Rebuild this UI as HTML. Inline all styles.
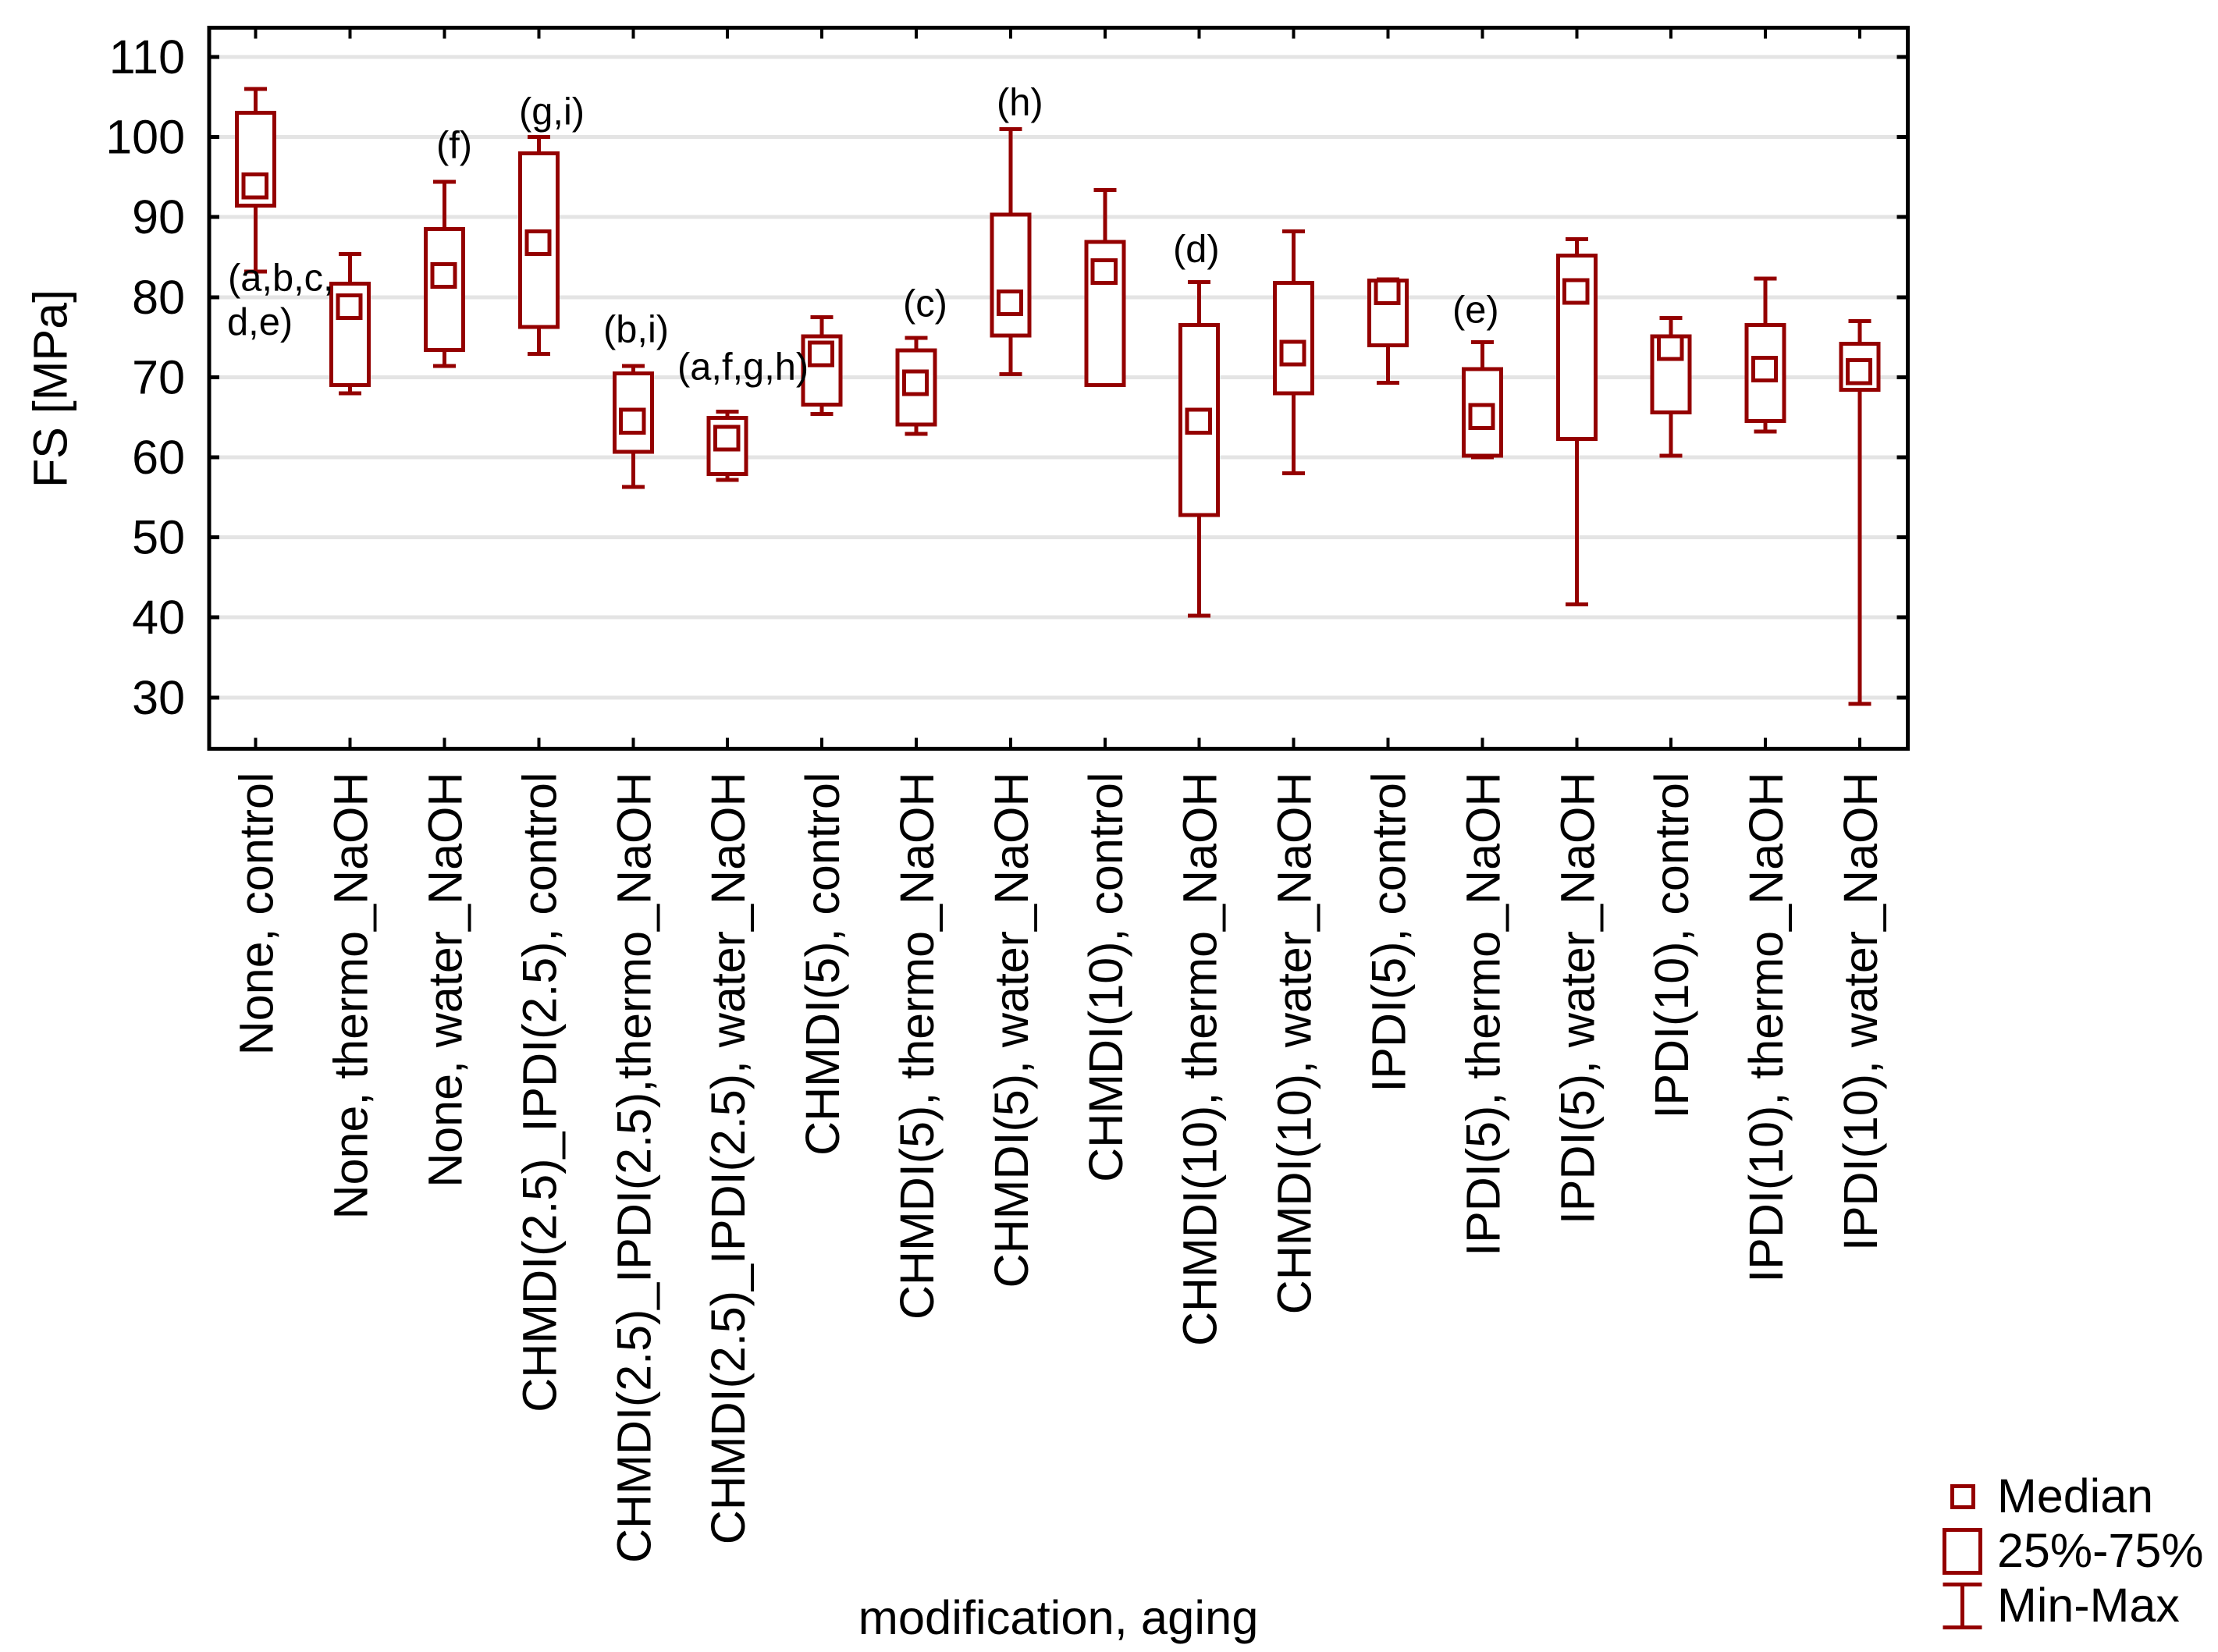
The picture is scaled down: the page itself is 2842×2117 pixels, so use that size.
<!DOCTYPE html>
<html lang="en">
<head>
<meta charset="utf-8">
<title>FS box plot</title>
<style>
html,body{margin:0;padding:0;background:#fff;}
svg{display:block;}
text{font-family:"Liberation Sans",Arial,sans-serif;fill:#000;}
line,rect{shape-rendering:crispEdges;}
</style>
</head>
<body>
<svg id="chart" xmlns="http://www.w3.org/2000/svg" width="2842" height="2117" viewBox="0 0 2842 2117">
  <rect x="0" y="0" width="2842" height="2117" fill="#ffffff"/>
  <g id="grid"></g>
  <rect x="268" y="35.6" width="2176.6" height="923.7" fill="none" stroke="#000" stroke-width="5"/>
  <g id="ticks"></g>
  <g id="boxes"></g>
  <g id="ylabels"></g>
  <g id="xlabels"></g>

  <text font-size="61" text-anchor="middle" transform="translate(85.7 498) rotate(-90)">FS [MPa]</text>
  <text font-size="61.5" text-anchor="middle" x="1356" y="2094">modification, aging</text>

  <g font-size="48.8">
    <text x="292" y="372.7">(a,b,c,</text>
    <text x="291" y="429">d,e)</text>
    <text x="559" y="202.7">(f)</text>
    <text x="665" y="159.3">(g,i)</text>
    <text x="773" y="438.3">(b,i)</text>
    <text x="868" y="486.7">(a,f,g,h)</text>
    <text x="1157" y="405.7">(c)</text>
    <text x="1277" y="147.7">(h)</text>
    <text x="1503" y="335.3">(d)</text>
    <text x="1861" y="413.3">(e)</text>
  </g>

  <g>
    <rect x="2501.5" y="1904.5" width="27" height="27" fill="none" stroke="#940000" stroke-width="5"/>
    <text font-size="61" x="2559" y="1938">Median</text>
    <rect x="2491.5" y="1960.5" width="46" height="55" fill="none" stroke="#940000" stroke-width="5"/>
    <text font-size="61" x="2559" y="2008">25%-75%</text>
    <g stroke="#940000" stroke-width="5">
      <line x1="2489.5" x2="2539.5" y1="2030.5" y2="2030.5"/>
      <line x1="2514.5" x2="2514.5" y1="2030.5" y2="2085.5"/>
      <line x1="2489.5" x2="2539.5" y1="2085.5" y2="2085.5"/>
    </g>
    <text font-size="61" x="2559" y="2078">Min-Max</text>
  </g>
</svg>

<script>
const categories = [
  "None, control", "None, thermo_NaOH", "None, water_NaOH",
  "CHMDI(2.5)_IPDI(2.5), control", "CHMDI(2.5)_IPDI(2.5),thermo_NaOH", "CHMDI(2.5)_IPDI(2.5), water_NaOH",
  "CHMDI(5), control", "CHMDI(5), thermo_NaOH", "CHMDI(5), water_NaOH",
  "CHMDI(10), control", "CHMDI(10), thermo_NaOH", "CHMDI(10), water_NaOH",
  "IPDI(5), control", "IPDI(5), thermo_NaOH", "IPDI(5), water_NaOH",
  "IPDI(10), control", "IPDI(10), thermo_NaOH", "IPDI(10), water_NaOH"
];
const maxValues    = [106.0, 85.4, 94.4, 100.0, 71.4, 65.7, 77.5, 74.9, 101.0, 93.4, 81.9, 88.2, 82.2, 74.4, 87.25, 77.4, 82.3, 77.0];
const q3Values     = [103.05, 81.7, 88.5, 97.95, 70.5, 64.9, 75.1, 73.35, 90.3, 86.9, 76.5, 81.8, 82.1, 71.0, 85.2, 75.1, 76.5, 74.2];
const medianValues = [93.9, 78.8, 82.7, 86.8, 64.5, 62.4, 72.9, 69.3, 79.3, 83.2, 64.5, 73.0, 80.65, 65.1, 80.7, 73.7, 71.0, 70.7];
const q1Values     = [91.45, 69.0, 73.4, 76.3, 60.7, 57.9, 66.6, 64.1, 75.2, 69.0, 52.8, 68.0, 74.0, 60.2, 62.3, 65.6, 64.55, 68.45];
const minValues    = [83.2, 68.0, 71.4, 72.9, 56.3, 57.15, 65.4, 62.9, 70.4, 69.0, 40.2, 58.0, 69.3, 60.0, 41.65, 60.2, 63.2, 29.2];
const yTickLabels  = [110, 100, 90, 80, 70, 60, 50, 40, 30];

const NS = "http://www.w3.org/2000/svg";
const RED = "#940000";
const STROKE = 5;
const PLOT_LEFT = 268, PLOT_RIGHT = 2444.6, PLOT_TOP = 35.6, PLOT_BOTTOM = 959.3;

function xAxis(i) { return 327.7 + i * 120.9; }
function yAxis(v) { return 175.6 + (100 - v) * 10.26; }

function make(tag, parent) {
  const el = document.createElementNS(NS, tag);
  parent.appendChild(el);
  return el;
}
function setLine(el, x1, y1, x2, y2, color, width, cap) {
  el.setAttribute("x1", x1);
  el.setAttribute("y1", y1);
  el.setAttribute("x2", x2);
  el.setAttribute("y2", y2);
  el.setAttribute("stroke", color);
  el.setAttribute("stroke-width", width);
  if (cap) el.setAttribute("stroke-linecap", cap);
}
function setRect(el, x, y, w, h) {
  el.setAttribute("x", x);
  el.setAttribute("y", y);
  el.setAttribute("width", w);
  el.setAttribute("height", h);
  el.setAttribute("fill", "#ffffff");
  el.setAttribute("stroke", RED);
  el.setAttribute("stroke-width", STROKE);
}

const gridG = document.getElementById("grid");
const ticksG = document.getElementById("ticks");
const boxesG = document.getElementById("boxes");
const yLabelsG = document.getElementById("ylabels");
const xLabelsG = document.getElementById("xlabels");

yTickLabels.forEach(function (v) {
  const y = yAxis(v);
  const grid = make("line", gridG);
  
  
  setLine(grid, PLOT_LEFT, y, PLOT_RIGHT, y, "#e4e4e4", 5);

  const tl = make("line", ticksG);
  
  
  setLine(tl, PLOT_LEFT, y, PLOT_LEFT + 13, y, "#000", 5);

  const tr = make("line", ticksG);
  
  
  setLine(tr, PLOT_RIGHT - 14, y, PLOT_RIGHT, y, "#000", 5);

  const label = make("text", yLabelsG);
  
  
  label.setAttribute("x", 237);
  label.setAttribute("y", y + 21);
  label.setAttribute("font-size", 61);
  label.setAttribute("text-anchor", "end");
  label.textContent = v;
});

categories.forEach(function (name, i) {
  const x = xAxis(i);

  const tt = make("line", ticksG);
  
  
  setLine(tt, x, PLOT_TOP, x, PLOT_TOP + 14, "#000", 4);

  const tb = make("line", ticksG);
  
  
  setLine(tb, x, PLOT_BOTTOM - 14, x, PLOT_BOTTOM, "#000", 4);

  const label = make("text", xLabelsG);
  
  
  label.setAttribute("font-size", 61);
  label.setAttribute("text-anchor", "end");
  label.setAttribute("transform", "translate(" + (x + 22) + " 989.5) rotate(-90)");
  label.textContent = name;

  const stem = make("line", boxesG);
  
  
  setLine(stem, x, yAxis(maxValues[i]), x, yAxis(minValues[i]), RED, STROKE);

  const capTop = make("line", boxesG);
  
  
  setLine(capTop, x - 14.5, yAxis(maxValues[i]), x + 14.5, yAxis(maxValues[i]), RED, STROKE);

  const capBottom = make("line", boxesG);
  
  
  setLine(capBottom, x - 14.5, yAxis(minValues[i]), x + 14.5, yAxis(minValues[i]), RED, STROKE);

  const box = make("rect", boxesG);
  
  
  setRect(box, x - 24, yAxis(q3Values[i]), 48, yAxis(q1Values[i]) - yAxis(q3Values[i]));

  const median = make("rect", boxesG);
  
  
  setRect(median, x - 1 - 14.6, yAxis(medianValues[i]) - 14.6, 29.2, 29.2);
});
</script>
</body>
</html>
